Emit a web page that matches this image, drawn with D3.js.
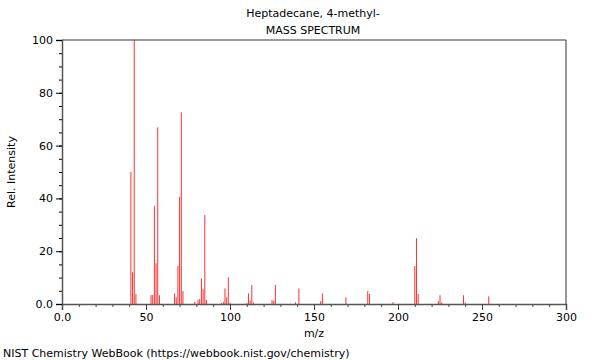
<!DOCTYPE html>
<html><head><meta charset="utf-8">
<script src="https://cdn.jsdelivr.net/npm/d3@7"></script>
<style>body{margin:0;background:#fff}svg{display:block}text{font-family:"DejaVu Sans",sans-serif;font-size:11px;fill:#000}</style>
</head><body>
<svg id="c" width="600" height="360"></svg>
<script>
const title = "Heptadecane, 4-methyl-";
const subtitle = "MASS SPECTRUM";
const xLabel = "m/z";
const yLabel = "Rel. Intensity";
const footer = "NIST Chemistry WebBook (https://webbook.nist.gov/chemistry)";
const mz = [41,42,43,44,53,54,55,56,57,58,67,68,69,70,71,72,79,81,82,83,84,85,86,95,96,97,98,99,100,110,111,112,113,114,125,126,127,139,141,154,155,169,182,183,197,210,211,212,224,225,226,239,240,254];
const intensity = [50,12,100,3.8,3.4,3.4,37.2,15.4,66.9,3.3,4,2.5,14.4,40.6,72.6,4.9,0.8,1.6,1.9,9.7,5.7,33.7,1.5,0.4,0.8,5.9,2.5,10.1,0.5,0.4,4.0,1.3,7.2,0.5,1.5,1.1,7.2,0.6,5.9,1.1,4.0,2.5,4.9,3.8,0.7,14.4,24.9,3.8,1.1,3.3,0.5,3.3,0.6,2.9];
const xTicks = [0,50,100,150,200,250,300];
const yTicks = [0,20,40,60,80,100];

const svg = d3.select("#c");
const x = d3.scaleLinear().domain([0,300]).range([62,566]);
const y = d3.scaleLinear().domain([0,100]).range([304,40]);

// peaks
svg.append("g").selectAll("line").data(mz).join("line")
  .attr("x1", d => x(d)).attr("x2", d => x(d))
  .attr("y1", y(0)).attr("y2", (d,i) => y(intensity[i]))
  .attr("stroke", "#ff3030").attr("stroke-width", 1);

// frame
svg.append("path").attr("d", `M${x(0)},${y(100)}H${x(300)}V${y(0)}`).attr("fill","none").attr("stroke","#333").attr("stroke-width",1);

const fmt = d => d === 0 ? "0.0" : String(d);

// x axis
const gx = svg.append("g").attr("transform", `translate(0,${y(0)})`);
gx.call(d3.axisBottom(x).tickValues(d3.range(0,301,10)).tickSize(3).tickFormat(""));
gx.call(g => g.select(".domain").remove());
const gx2 = svg.append("g").attr("transform", `translate(0,${y(0)})`);
gx2.call(d3.axisBottom(x).tickValues(xTicks).tickSize(6).tickPadding(3).tickFormat(fmt));
svg.selectAll("g .tick line").attr("stroke","#444");

// y axis
const gy = svg.append("g").attr("transform", `translate(${x(0)},0)`);
gy.call(d3.axisLeft(y).tickValues(d3.range(0,101,5)).tickSize(3).tickFormat(""));
gy.call(g => g.select(".domain").remove());
const gy2 = svg.append("g").attr("transform", `translate(${x(0)},0)`);
gy2.call(d3.axisLeft(y).tickValues(yTicks).tickSize(6).tickPadding(3).tickFormat(fmt));
svg.selectAll(".domain").attr("stroke","#555").attr("stroke-width",1.5);
svg.selectAll(".tick text").style("font-family","DejaVu Sans").style("font-size","11px").attr("fill","#000");

svg.append("text").attr("x",313).attr("y",17).attr("text-anchor","middle").text(title);
svg.append("text").attr("x",313).attr("y",34).attr("text-anchor","middle").text(subtitle);
svg.append("text").attr("x",314).attr("y",337).attr("text-anchor","middle").text(xLabel);
svg.append("text").attr("transform","translate(15,172) rotate(-90)").attr("text-anchor","middle").text(yLabel);
svg.append("text").attr("x",3).attr("y",357).text(footer);
</script>
</body></html>
